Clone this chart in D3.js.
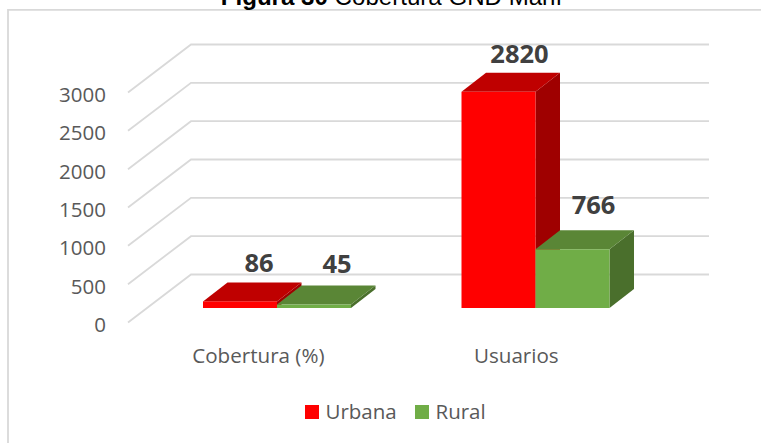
<!DOCTYPE html>
<html><head><meta charset="utf-8">
<script src="https://cdn.jsdelivr.net/npm/d3@7"></script>
<style>html,body{margin:0;background:#fff;overflow:hidden}svg{display:block}</style></head>
<body><svg id="c" width="761" height="443"></svg>
<script>
const categories = ["Cobertura (%)", "Usuarios"];
const seriesNames = ["Urbana", "Rural"];
const urbana = [86, 2820];
const rural = [45, 766];
const ticks = [0, 500, 1000, 1500, 2000, 2500, 3000];
const colors = {Urbana:["#ff0000","#bf0000","#9f0000"], Rural:["#70ad47","#5a8636","#4a6f2c"]};
const font = "'Open Sans', sans-serif";

const svg = d3.select("#c");
const h = d3.scaleLinear().domain([0,3000]).range([0,230]);
const cat = d3.scalePoint().domain(categories).range([277,535.5]);
const barW = 74, base = 308, dx = 24.5, dy = 19;

// frame
svg.append("path").attr("d","M8 443V9.8H761").attr("fill","none").attr("stroke","#d9d9d9").attr("stroke-width",1.8);

// title
const t = svg.append("text").attr("x",391.5).attr("y",5).attr("text-anchor","middle")
  .attr("font-family","'Liberation Sans',Arial,sans-serif").attr("font-size",24.1).attr("fill","#000");
t.append("tspan").attr("font-weight","bold").text("Figura 30");
t.append("tspan").text(" Cobertura GND Maní");

// grid
const frontY0 = 322.5, backY0 = 274.5, frontX = 128, backX = 191, rightX = 709;
const grid = svg.append("g").attr("fill","none").attr("stroke","#d9d9d9").attr("stroke-width",1.8);
ticks.forEach(v=>{
  grid.append("polyline").attr("points",
    [[frontX,frontY0-h(v)],[backX,backY0-h(v)],[rightX,backY0-h(v)]].map(p=>p.join(",")).join(" "));
});
// y tick labels
svg.append("g").selectAll("text").data(ticks).join("text")
  .attr("x",106).attr("y",v=>frontY0-h(v)+9.5).attr("text-anchor","end")
  .attr("font-family",font).attr("font-size",20.5).attr("fill","#595959").text(d=>d);

// bars
function bar(g,x,val,c){
  const H=h(val), top=base-H;
  g.append("path").attr("fill",c[2]).attr("d",`M${x+barW} ${base}L${x+barW+dx} ${base-dy}V${top-dy}L${x+barW} ${top}Z`);
  g.append("path").attr("fill",c[1]).attr("d",`M${x} ${top}L${x+dx} ${top-dy}H${x+barW+dx}L${x+barW} ${top}Z`);
  g.append("rect").attr("fill",c[0]).attr("x",x).attr("y",top).attr("width",barW).attr("height",H);
}
const bars = svg.append("g");
categories.forEach((k,i)=>{
  const cx = cat(k);
  bar(bars,cx-barW,urbana[i],colors.Urbana);
  bar(bars,cx,rural[i],colors.Rural);
});

// data labels
const lab = svg.append("g").attr("font-family",font).attr("font-size",25.5).attr("font-weight","bold").attr("fill","#404040").attr("text-anchor","middle");
const labelPos = [[259,271.7],[337,273.3],[519.5,62.7],[593.5,214]];
[urbana[0],rural[0],urbana[1],rural[1]].forEach((v,i)=>{
  lab.append("text").attr("x",labelPos[i][0]).attr("y",labelPos[i][1]).text(v);
});

// category labels
svg.append("g").selectAll("text").data(categories).join("text")
  .attr("x",d=>d==="Usuarios"?516.3:258.4).attr("y",362.7).attr("text-anchor","middle")
  .attr("font-family",font).attr("font-size",20.6).attr("fill","#595959").text(d=>d);

// legend
const leg = svg.append("g");
[[305,325.5],[415,435.5]].forEach((p,i)=>{
  leg.append("rect").attr("x",p[0]).attr("y",405).attr("width",14).attr("height",14).attr("fill",colors[seriesNames[i]][0]);
  leg.append("text").attr("x",p[1]).attr("y",419).attr("font-family",font).attr("font-size",20.5).attr("fill","#595959").text(seriesNames[i]);
});
</script></body></html>
